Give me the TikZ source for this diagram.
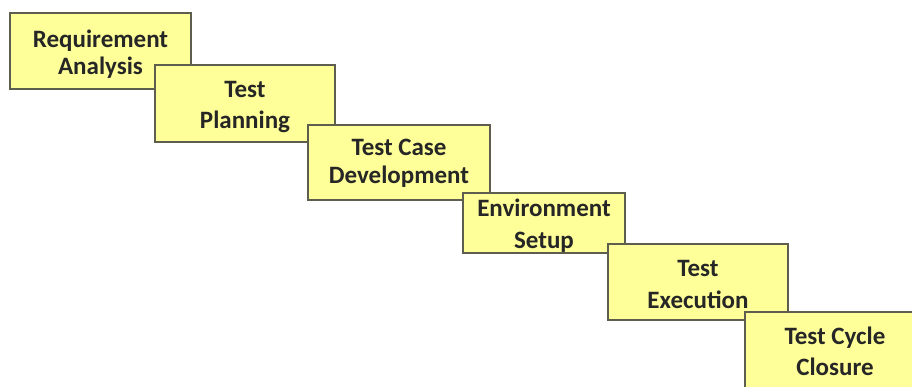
\documentclass[tikz,border=0pt]{standalone}
\usepackage{fontspec}
\setmainfont{Carlito}
\usepackage{xcolor}
\definecolor{boxfill}{HTML}{FFFF99}
\definecolor{boxline}{HTML}{5E5E4E}
\tikzset{stagebox/.style={draw=boxline, fill=boxfill, line width=1.5pt, align=center, inner sep=0pt,
  minimum width=180pt, minimum height=76pt, linegap=31, text=black!85, text height=51pt, text depth=0pt},
  linegap/.style={font=\bfseries\fontsize{25}{#1}\selectfont}}
\begin{document}
\begin{tikzpicture} [x=1pt,y=-1pt]
\clip (0,0) rectangle (912,386);
\fill[white] (0,0) rectangle (912,386);
\node[stagebox, minimum width=181pt, linegap=27, text height=46.5pt] (reqanalysis) at (100.5,51) {Requirement\\Analysis};
\node[stagebox, minimum height=77pt, text height=50pt] (testplan) at (245,103.5) {Test\\Planning};
\node[stagebox, minimum width=182pt, minimum height=75pt, linegap=28, text height=42pt] (casedev) at (399,162.5) {Test Case\\Development};
\node[stagebox, minimum width=162pt, minimum height=60pt, linegap=32, text height=50pt] (envsetup) at (544,223) {Environment\\Setup};
\node[stagebox, linegap=32, text height=53pt] (testexec) at (698,282) {Test\\Execution};
\node[stagebox] (cycleclose) at (835,350) {Test Cycle\\Closure};
\end{tikzpicture}
\end{document}
